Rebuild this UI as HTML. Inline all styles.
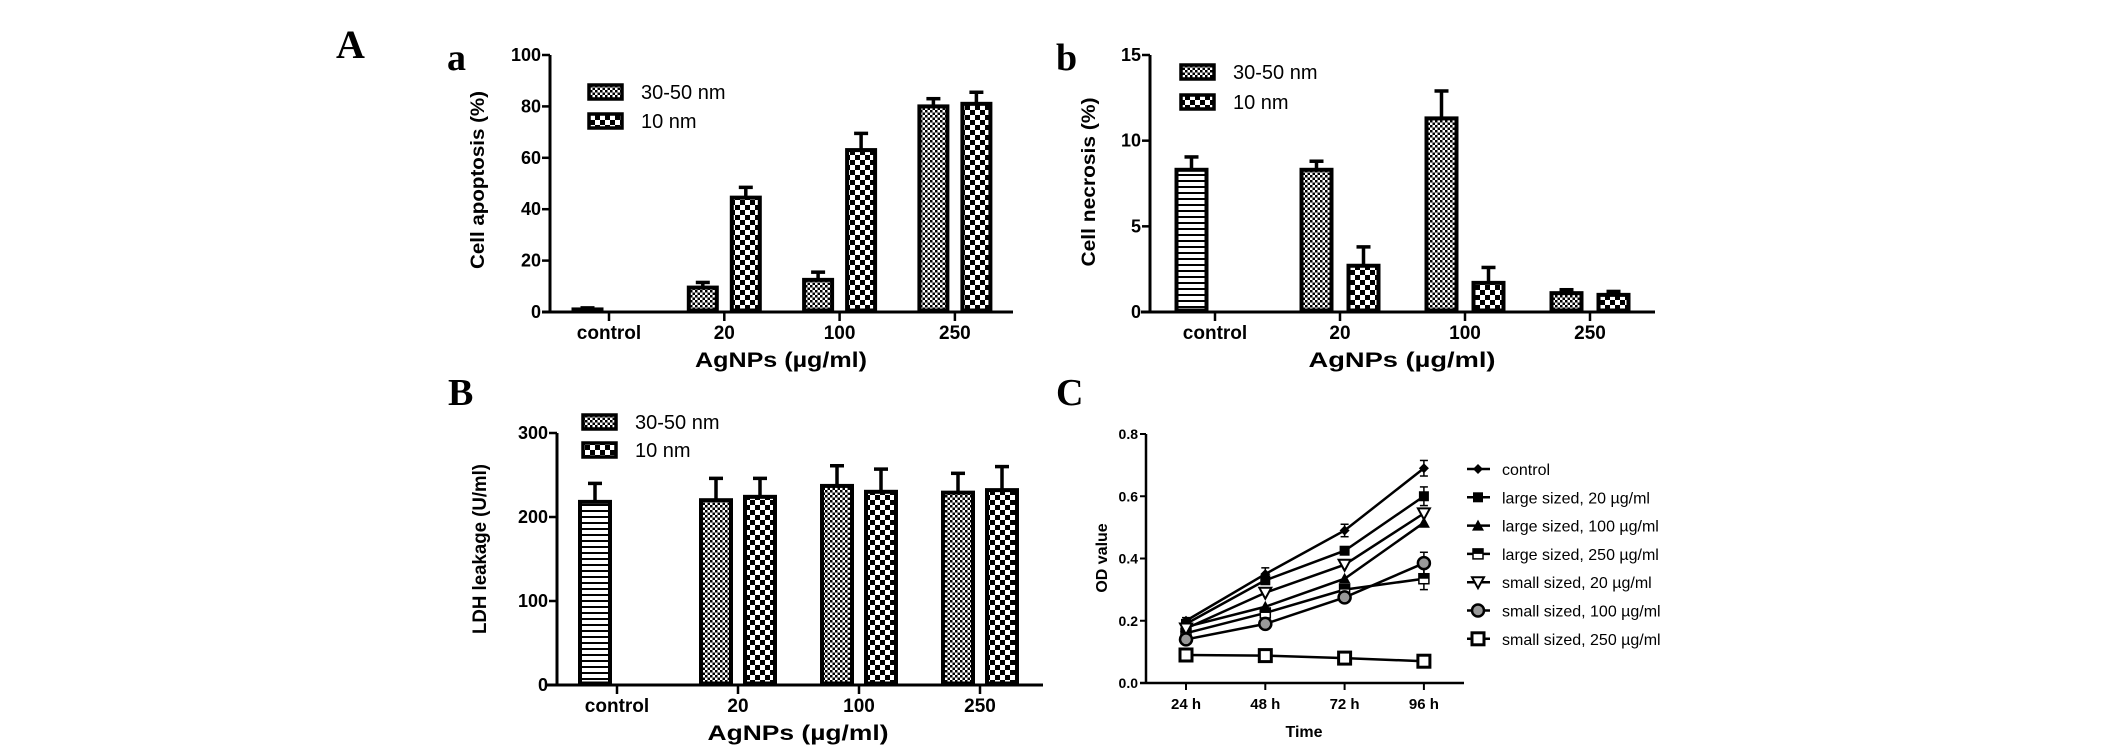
<!DOCTYPE html>
<html><head><meta charset="utf-8"><style>
html,body{margin:0;padding:0;background:#fff;}
svg{display:block;}
text{font-family:"Liberation Sans",sans-serif;fill:#000;}
.serif{font-family:"Liberation Serif",serif;font-weight:bold;}
</style></head>
<body>
<svg id="fig" width="2126" height="748" viewBox="0 0 2126 748" xmlns="http://www.w3.org/2000/svg">
<defs>
<pattern id="fine" width="5" height="5" patternUnits="userSpaceOnUse"><rect width="5" height="5" fill="#fff"/><rect width="2.5" height="2.5" fill="#000"/><rect x="2.5" y="2.5" width="2.5" height="2.5" fill="#000"/></pattern>
<pattern id="coarse" width="10" height="10" patternUnits="userSpaceOnUse"><rect width="10" height="10" fill="#fff"/><rect width="5" height="5" fill="#000"/><rect x="5" y="5" width="5" height="5" fill="#000"/></pattern>
<pattern id="stripe" width="6" height="6" patternUnits="userSpaceOnUse"><rect width="6" height="6" fill="#fff"/><rect width="6" height="2" fill="#000"/></pattern>
</defs>
<text class="serif" x="336" y="58" font-size="40">A</text>
<text class="serif" x="447" y="70" font-size="38">a</text>
<text class="serif" x="1056" y="70" font-size="38">b</text>
<text class="serif" x="448" y="405" font-size="38">B</text>
<text class="serif" x="1056" y="405" font-size="38">C</text>
<g id="chartA"></g>
<g id="chartB"></g>
<g id="chartL"></g>
<g id="chartC"></g>
</svg>
<script>
// ---- data ----
const cats = ['control','20','100','250'];
// Chart a: Cell apoptosis
const aTicks = [0,20,40,60,80,100];
const aCtrl = [1.0]; const aCtrlErr = [0.6];
const a30 = [null,9.5,12.5,80]; const a30Err = [null,2,3,3];
const a10 = [null,44.5,63,81]; const a10Err = [null,4,6.5,4.5];
// Chart b: Cell necrosis
const bTicks = [0,5,10,15];
const bCtrl = [8.3]; const bCtrlErr = [0.75];
const b30 = [null,8.3,11.3,1.1]; const b30Err = [null,0.5,1.6,0.2];
const b10 = [null,2.7,1.7,1.0]; const b10Err = [null,1.1,0.9,0.2];
// Chart B: LDH leakage
const lTicks = [0,100,200,300];
const lCtrl = [218]; const lCtrlErr = [22];
const l30 = [null,220,237,229]; const l30Err = [null,26,24,23];
const l10 = [null,224,230,232]; const l10Err = [null,22,27,28];
// Chart C: OD value
const times = ['24 h','48 h','72 h','96 h'];
const odTicks = ['0.0','0.2','0.4','0.6','0.8'];
const seriesNames = ['control','large sized, 20 µg/ml','large sized, 100 µg/ml','large sized, 250 µg/ml','small sized, 20 µg/ml','small sized, 100 µg/ml','small sized, 250 µg/ml'];
const sControl = [0.20,0.35,0.49,0.69];
const sL20 = [0.19,0.33,0.425,0.60];
const sL100 = [0.18,0.245,0.335,0.515];
const sL250 = [0.16,0.225,0.30,0.335];
const sS20 = [0.175,0.29,0.38,0.545];
const sS100 = [0.14,0.19,0.275,0.385];
const sS250 = [0.09,0.088,0.08,0.07];
const errControl = [0.01,0.02,0.02,0.025];
const errL20 = [0.01,0.01,0.01,0.03];
const errL250 = [0.01,0.01,0.01,0.035];
const errS100 = [0.01,0.01,0.01,0.035];

const NS='http://www.w3.org/2000/svg';
function mk(parent,tag,attrs){const e=document.createElementNS(NS,tag);for(const k in attrs)e.setAttribute(k,attrs[k]);parent.appendChild(e);return e;}

function barChart(g,cfg){
  const ys=v=>cfg.y0-(v/cfg.max)*(cfg.y0-cfg.yTop);
  const cx=i=>cfg.c0+i*cfg.cs;
  const ya=mk(g,'line',{x1:cfg.ax,y1:cfg.yTop,x2:cfg.ax,y2:cfg.y0,stroke:'#000','stroke-width':3});
  
  
  const xa=mk(g,'line',{x1:cfg.xl,y1:cfg.y0,x2:cfg.xr,y2:cfg.y0,stroke:'#000','stroke-width':3});
  
  
  cfg.ticks.forEach(t=>{
    mk(g,'line',{x1:cfg.ax-8,y1:ys(t),x2:cfg.ax,y2:ys(t),stroke:'#000','stroke-width':2.5});
    const tx=mk(g,'text',{x:cfg.ax-9,y:ys(t)+6,'font-size':18,'font-weight':'bold','text-anchor':'end'});
    tx.textContent=t;
    
    
  });
  cats.forEach((c,i)=>{
    mk(g,'line',{x1:cx(i),y1:cfg.y0,x2:cx(i),y2:cfg.y0+9,stroke:'#000','stroke-width':2.5});
    const tx=mk(g,'text',{x:cx(i),y:cfg.y0+27,'font-size':19,'font-weight':'bold','text-anchor':'middle'});
    tx.textContent=c;
    
    
  });
  function bar(x,v,e,fill,name){
    if(v==null)return;
    const top=ys(v);
    const et=ys(v+e);
    mk(g,'line',{x1:x,y1:top,x2:x,y2:et,stroke:'#000','stroke-width':3.5});
    mk(g,'line',{x1:x-7,y1:et,x2:x+7,y2:et,stroke:'#000','stroke-width':3.5});
    const r=mk(g,'rect',{x:x-cfg.bw/2+2,y:top,width:cfg.bw-4,height:Math.max(cfg.y0-top-1.5,1),fill:fill,stroke:'#000','stroke-width':4});
    
    
  }
  bar(cx(0)-cfg.off,cfg.ctrl[0],cfg.ctrlErr[0],cfg.ctrlFill,'bar-control');
  cats.forEach((c,i)=>{
    bar(cx(i)-cfg.off,cfg.s30[i],cfg.s30Err[i],'url(#fine)','bar-30-50nm-'+c);
    bar(cx(i)+cfg.off,cfg.s10[i],cfg.s10Err[i],'url(#coarse)','bar-10nm-'+c);
  });
  [['30-50 nm','url(#fine)'],['10 nm','url(#coarse)']].forEach((L,k)=>{
    const yy=cfg.legY+k*cfg.legDy;
    const r=mk(g,'rect',{x:cfg.legX,y:yy-7,width:33,height:14,fill:L[1],stroke:'#000','stroke-width':3.5});
    
    
    const t=mk(g,'text',{x:cfg.legX+52,y:yy+7,'font-size':20});
    t.textContent=L[0];
    
    
  });
  const yt=mk(g,'text',{x:0,y:0,'font-size':19,'font-weight':'bold','text-anchor':'middle',transform:`translate(${cfg.ytx},${cfg.yty}) rotate(-90)`,textLength:cfg.ytl,lengthAdjust:'spacingAndGlyphs'});
  yt.textContent=cfg.ytitle;
  
  
  const xt=mk(g,'text',{x:cfg.xtx,y:cfg.xty,'font-size':21,'font-weight':'bold','text-anchor':'middle',textLength:cfg.xtl,lengthAdjust:'spacingAndGlyphs'});
  xt.textContent='AgNPs (µg/ml)';
  
  
}

barChart(document.getElementById('chartA'),{ax:550,y0:312,yTop:55,max:100,ticks:aTicks,c0:609,cs:115.3,off:21.5,bw:32,xl:542,xr:1013,
  ctrl:aCtrl,ctrlErr:aCtrlErr,ctrlFill:'url(#stripe)',s30:a30,s30Err:a30Err,s10:a10,s10Err:a10Err,
  legX:589,legY:92,legDy:29,ytitle:'Cell apoptosis (%)',ytx:484,yty:180,ytl:178,xtx:781,xty:367,xtl:172});
barChart(document.getElementById('chartB'),{ax:1150,y0:312,yTop:55,max:15,ticks:bTicks,c0:1215,cs:125,off:23.5,bw:34,xl:1141,xr:1655,
  ctrl:bCtrl,ctrlErr:bCtrlErr,ctrlFill:'url(#stripe)',s30:b30,s30Err:b30Err,s10:b10,s10Err:b10Err,
  legX:1181,legY:72,legDy:30,ytitle:'Cell necrosis (%)',ytx:1095,yty:182,ytl:169,xtx:1402,xty:367,xtl:187});
barChart(document.getElementById('chartL'),{ax:557,y0:685,yTop:433,max:300,ticks:lTicks,c0:617,cs:121,off:22,bw:34,xl:547,xr:1043,
  ctrl:lCtrl,ctrlErr:lCtrlErr,ctrlFill:'url(#stripe)',s30:l30,s30Err:l30Err,s10:l10,s10Err:l10Err,
  legX:583,legY:422,legDy:28,ytitle:'LDH leakage (U/ml)',ytx:486,yty:549,ytl:170,xtx:798,xty:740,xtl:181});

// ---- line chart C ----
(function(){
  const g=document.getElementById('chartC');
  const ax=1146,y0=683,yTop=434,xr=1464,c0=1186,cs=79.3;
  const ys=v=>y0-(v/0.8)*(y0-yTop);
  const xs=i=>c0+i*cs;
  const ya=mk(g,'line',{x1:ax,y1:yTop,x2:ax,y2:y0,stroke:'#000','stroke-width':2.5});
  
  
  const xa=mk(g,'line',{x1:ax-6,y1:y0,x2:xr,y2:y0,stroke:'#000','stroke-width':2.5});
  
  
  odTicks.forEach(t=>{
    const v=parseFloat(t);
    mk(g,'line',{x1:ax-6,y1:ys(v),x2:ax,y2:ys(v),stroke:'#000','stroke-width':2});
    const tx=mk(g,'text',{x:ax-8,y:ys(v)+5,'font-size':14,'font-weight':'bold','text-anchor':'end'});
    tx.textContent=t;
    
    
  });
  times.forEach((t,i)=>{
    mk(g,'line',{x1:xs(i),y1:y0,x2:xs(i),y2:y0+7,stroke:'#000','stroke-width':2});
    const tx=mk(g,'text',{x:xs(i),y:y0+26,'font-size':15,'font-weight':'bold','text-anchor':'middle'});
    tx.textContent=t;
    
    
  });
  const xt=mk(g,'text',{x:1304,y:737,'font-size':16,'font-weight':'bold','text-anchor':'middle'});
  xt.textContent='Time';
  
  
  const yt=mk(g,'text',{x:0,y:0,'font-size':16,'font-weight':'bold','text-anchor':'middle',transform:'translate(1107,558) rotate(-90)'});
  yt.textContent='OD value';
  
  

  function marker(p,x,y,type){
    if(type==='diamond')mk(p,'polygon',{points:`${x},${y-5} ${x+5},${y} ${x},${y+5} ${x-5},${y}`,fill:'#000'});
    else if(type==='sq')mk(p,'rect',{x:x-5,y:y-5,width:10,height:10,fill:'#000'});
    else if(type==='tri')mk(p,'polygon',{points:`${x},${y-6} ${x+6},${y+5} ${x-6},${y+5}`,fill:'#000'});
    else if(type==='half'){mk(p,'rect',{x:x-5,y:y-5,width:10,height:10,fill:'#fff',stroke:'#000','stroke-width':1.5});mk(p,'rect',{x:x-5,y:y-5,width:10,height:5,fill:'#000'});}
    else if(type==='tridown')mk(p,'polygon',{points:`${x-6},${y-5} ${x+6},${y-5} ${x},${y+6}`,fill:'#fff',stroke:'#000','stroke-width':2});
    else if(type==='circ')mk(p,'circle',{cx:x,cy:y,r:6,fill:'#999',stroke:'#000','stroke-width':2.5});
    else if(type==='osq')mk(p,'rect',{x:x-6,y:y-6,width:12,height:12,fill:'#fff',stroke:'#000','stroke-width':3});
  }
  const series=[[sControl,'diamond',errControl],[sL20,'sq',errL20],[sL100,'tri',null],[sL250,'half',errL250],[sS20,'tridown',null],[sS100,'circ',errS100],[sS250,'osq',null]];
  series.forEach((s,k)=>{
    const sg=mk(g,'g',{});
    
    
    const vals=s[0];
    const pts=vals.map((v,i)=>xs(i)+','+ys(v)).join(' ');
    const pl=mk(sg,'polyline',{points:pts,fill:'none',stroke:'#000','stroke-width':2.5});
    
    
    vals.forEach((v,i)=>{
      if(s[2]){const e=s[2][i];mk(sg,'line',{x1:xs(i),y1:ys(v-e),x2:xs(i),y2:ys(v+e),stroke:'#000','stroke-width':1.5});
        mk(sg,'line',{x1:xs(i)-4,y1:ys(v+e),x2:xs(i)+4,y2:ys(v+e),stroke:'#000','stroke-width':1.5});
        mk(sg,'line',{x1:xs(i)-4,y1:ys(v-e),x2:xs(i)+4,y2:ys(v-e),stroke:'#000','stroke-width':1.5});}
      marker(sg,xs(i),ys(v),s[1]);
    });
    const ly=469+k*28.3;
    const lg=mk(g,'g',{});
    
    
    mk(lg,'line',{x1:1467,y1:ly,x2:1490,y2:ly,stroke:'#000','stroke-width':2.5});
    marker(lg,1478,ly,s[1]);
    const t=mk(lg,'text',{x:1502,y:ly+6,'font-size':16});
    t.textContent=seriesNames[k];
  });
})();
</script>
</body></html>
